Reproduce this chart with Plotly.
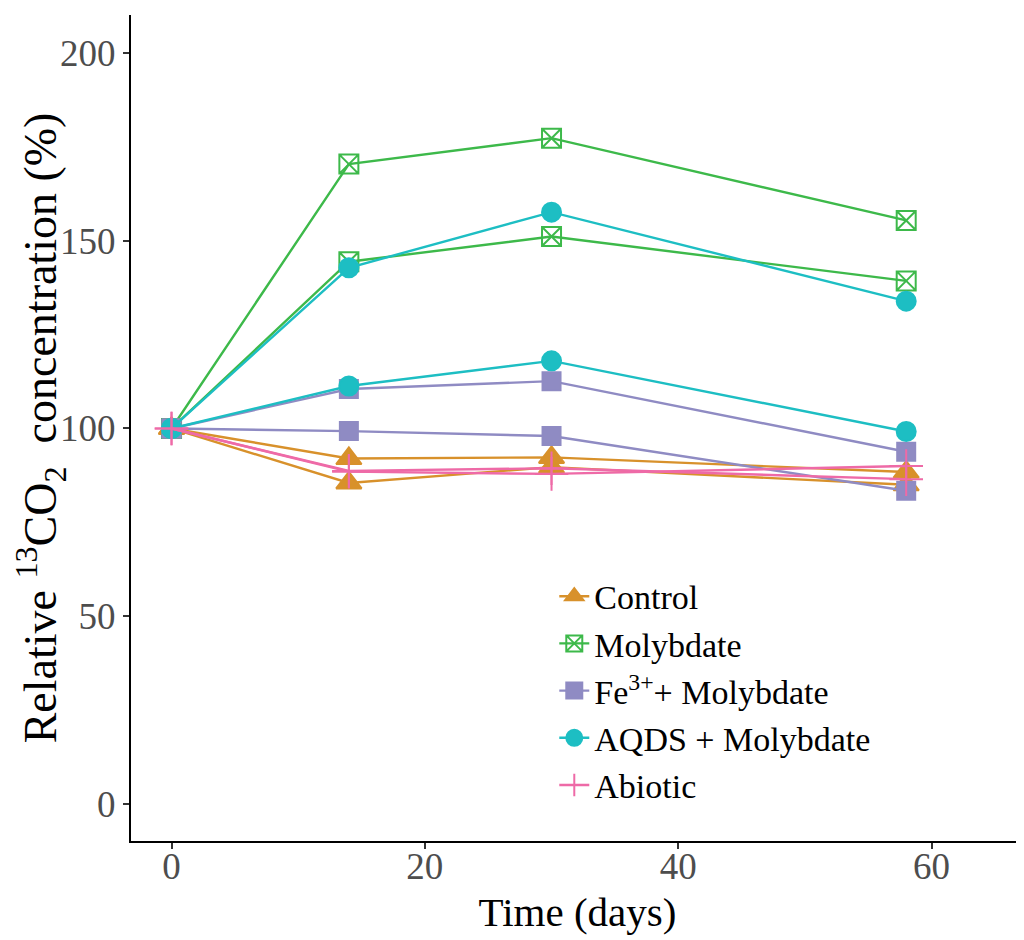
import plotly.graph_objects as go

days = [0, 14, 30, 58]

control_a = [100, 92.0, 92.3, 88.4]
control_b = [100, 85.5, 89.7, 85.0]
molybdate_a = [100, 170.4, 177.3, 155.4]
molybdate_b = [100, 144.4, 151.1, 139.3]
fe_a = [100, 110.5, 112.6, 93.8]
fe_b = [100, 99.3, 98.0, 83.4]
aqds_a = [100, 142.8, 157.6, 133.9]
aqds_b = [100, 111.3, 118.0, 99.2]
abiotic_a = [100, 88.7, 89.4, 86.5]
abiotic_b = [100, 88.5, 87.9, 90.0]

x_ticks = [0, 20, 40, 60]
y_ticks = [0, 50, 100, 150, 200]

groups = [
    ("Control", [control_a, control_b], "#D8912B", "triangle-up", 22),
    ("Molybdate", [molybdate_a, molybdate_b], "#3DB94A", "square-x-open", 19),
    ("Fe<sup>3+</sup>+ Molybdate", [fe_a, fe_b], "#8F8BC3", "square", 18),
    ("AQDS + Molybdate", [aqds_a, aqds_b], "#1DBEC3", "circle", 19),
    ("Abiotic", [abiotic_a, abiotic_b], "#EE6AA7", "cross-thin-open", 24),
]

FONT = "Liberation Serif, Times New Roman, serif"

fig = go.Figure()
for name, reps, color, symbol, size in groups:
    for i, vals in enumerate(reps):
        fig.add_trace(go.Scatter(
            x=days, y=vals, mode="lines+markers", name=name,
            legendgroup=name, showlegend=(i == 0),
            line=dict(color=color, width=2.4),
            marker=dict(symbol=symbol, size=size, color=color,
                        line=dict(color=color, width=2)),
        ))

# page body adds an 8px offset, so the figure is made slightly smaller
fig.update_layout(
    width=1016, height=932,
    margin=dict(l=123, r=0, t=7, b=99, autoexpand=False),
    paper_bgcolor="white", plot_bgcolor="white",
    font=dict(family=FONT, color="black"),
    legend=dict(
        x=0.474, y=0.331, xanchor="left", yanchor="top",
        font=dict(family=FONT, size=34, color="black"),
        bgcolor="rgba(0,0,0,0)", tracegroupgap=0,
        itemsizing="trace",
    ),
)
fig.update_xaxes(
    range=[-3.2, 67.3], tickvals=x_ticks, ticktext=[str(v) for v in x_ticks],
    showgrid=False, zeroline=False, automargin=False,
    showline=True, linecolor="black", linewidth=2,
    ticks="outside", ticklen=6, tickwidth=1.5, tickcolor="#333333",
    ticklabelstandoff=-14,
    tickfont=dict(family=FONT, size=37, color="#4D4D4D"),
    title=dict(text="Time (days)", font=dict(family=FONT, size=41, color="black"), standoff=11),
)
fig.update_yaxes(
    range=[-9.85, 210.1], tickvals=y_ticks, ticktext=[str(v) for v in y_ticks],
    showgrid=False, zeroline=False, automargin=False,
    showline=True, linecolor="black", linewidth=2,
    ticks="outside", ticklen=6, tickwidth=1.5, tickcolor="#333333",
    tickfont=dict(family=FONT, size=37, color="#4D4D4D"),
    title=dict(text="Relative <sup>13</sup>CO<sub>2</sub>  concentration (%)",
               font=dict(family=FONT, size=46, color="black"), standoff=8),
)

fig.write_html("out.html")
